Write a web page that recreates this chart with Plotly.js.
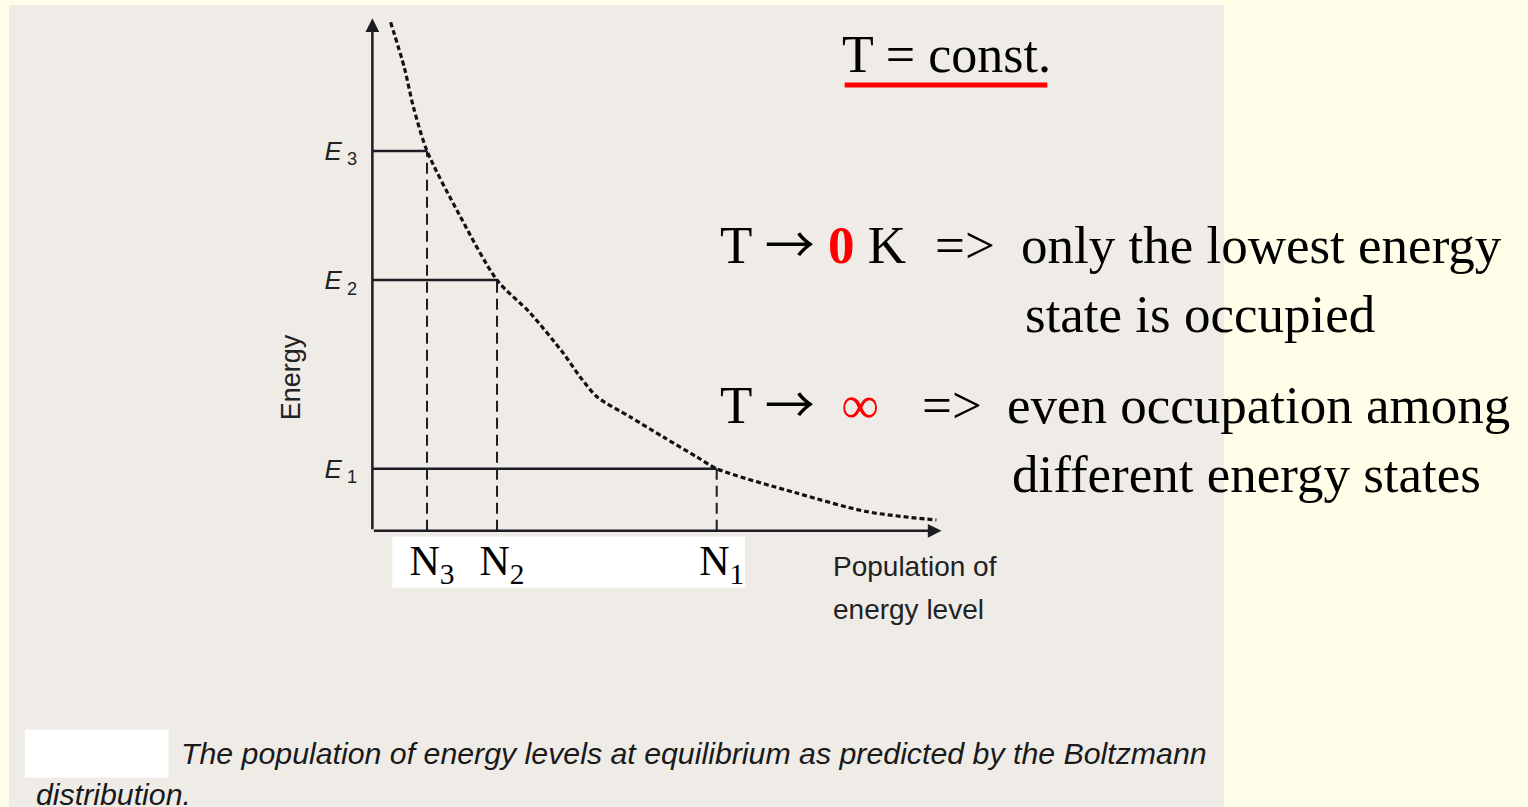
<!DOCTYPE html>
<html>
<head>
<meta charset="utf-8">
<script src="https://cdn.plot.ly/plotly-3.0.1.min.js"></script>
<style>html,body{margin:0;padding:0;background:#fffee8;}#chart{width:1528px;height:807px;}</style>
</head>
<body>
<div id="chart"></div>
<script>
// Boltzmann curve (population of energy level vs energy), arbitrary units
const curvePopulation = [0.32,0.56,0.72,0.96,1.54,2.19,2.77,3.35,3.65,3.95,4.53,5.11,5.70,6.05,7.44,8.70,9.91];
const curveEnergy     = [9.92,9.04,8.27,7.41,6.14,4.89,4.25,3.47,3.00,2.61,2.22,1.83,1.44,1.21,0.74,0.37,0.21];
// Energy levels E1..E3 and their populations N1..N3
const levelEnergy     = [1.21, 4.89, 7.41];
const levelPopulation = [6.05, 2.19, 0.96];
const levelLabels     = ['<i>E</i><sub> 1</sub>', '<i>E</i><sub> 2</sub>', '<i>E</i><sub> 3</sub>'];
const popLabels       = ['N<sub>1</sub>', 'N<sub>2</sub>', 'N<sub>3</sub>'];
const axisMax = 10;

const ink = '#1c1c22';
const serif = 'Liberation Serif, Times New Roman, serif';
const sans = 'Liberation Sans, Arial, sans-serif';
const arrow = '<span style="font-family:Noto Sans CJK JP;font-size:50px">→</span>';

// plot area geometry (pixels)
const L = 360.6, W = 609.9, B = 541.3, H = 528.4;
const px = X => (X - L) / W;
const py = Y => (B - Y) / H;

const traces = [];
levelEnergy.forEach((e, i) => {
  traces.push({x: [0, levelPopulation[i]], y: [e, e], mode: 'lines',
    line: {color: ink, width: 2.5}, hoverinfo: 'skip', showlegend: false});
  traces.push({x: [levelPopulation[i], levelPopulation[i]], y: [0, e], mode: 'lines',
    line: {color: ink, width: 2, dash: '11px,6px'}, hoverinfo: 'skip', showlegend: false});
});
traces.push({x: curvePopulation, y: curveEnergy, mode: 'lines',
  line: {color: '#111114', width: 3.2, dash: '5px,3px', shape: 'spline', smoothing: 0.8},
  hoverinfo: 'skip', showlegend: false});

function ann(text, X, Y, size, family, extra) {
  return Object.assign({text: text, xref: 'paper', yref: 'paper', x: px(X), y: py(Y),
    xanchor: 'left', yanchor: 'middle', showarrow: false,
    font: {family: family, size: size, color: '#000'}}, extra || {});
}

const annotations = [
  // axis arrows
  {x: axisMax, y: 0, ax: 0, ay: 0, xref: 'x', yref: 'y', axref: 'x', ayref: 'y', text: '',
   showarrow: true, arrowhead: 2, arrowsize: 1.1, arrowwidth: 2.5, arrowcolor: ink, standoff: 0},
  {x: 0, y: axisMax, ax: 0, ay: 0, xref: 'x', yref: 'y', axref: 'x', ayref: 'y', text: '',
   showarrow: true, arrowhead: 2, arrowsize: 1.1, arrowwidth: 2.5, arrowcolor: ink, standoff: 0},
  ann('Energy', 290, 378, 27, sans, {textangle: -90, xanchor: 'center', font: {family: sans, size: 27, color: '#222'}}),
  ann('Population of', 831, 567, 28, sans, {font: {family: sans, size: 28, color: '#222'}}),
  ann('energy level', 831, 610, 28, sans, {font: {family: sans, size: 28, color: '#222'}}),
  ann('T = const.', 840, 54, 52, serif),
  ann('T ' + arrow + ' <b><span style="color:#ff0000">0</span></b> K', 718, 241, 53, serif),
  ann('=>', 933, 245, 53, serif),
  ann('only the lowest energy', 1020, 245, 53, serif),
  ann('state is occupied', 1024, 314, 53, serif),
  ann('T ' + arrow + ' \u00a0<span style="color:#ff0000">∞</span>', 718, 401, 53, serif),
  ann('=>', 920, 405, 53, serif),
  ann('even occupation among', 1006, 405, 53, serif),
  ann('different energy states', 1011, 474, 53, serif),
  ann('The population of energy levels at equilibrium as predicted by the Boltzmann', 178, 754, 30.3, sans,
      {font: {family: sans, size: 30.3, color: '#1a1a1a', style: 'italic'}}),
  ann('distribution.', 33, 795, 30.3, sans, {font: {family: sans, size: 30.3, color: '#1a1a1a', style: 'italic'}})
];

const shapes = [
  {type: 'rect', xref: 'paper', yref: 'paper', x0: px(8), x1: px(1225), y0: py(830), y1: py(5),
   fillcolor: '#efece8', line: {width: 0}, layer: 'below'},
  {type: 'rect', xref: 'paper', yref: 'paper', x0: px(392), x1: px(745), y0: py(588), y1: py(537),
   fillcolor: '#ffffff', line: {width: 0}, layer: 'below'},
  {type: 'rect', xref: 'paper', yref: 'paper', x0: px(24), x1: px(168), y0: py(778), y1: py(730),
   fillcolor: '#ffffff', line: {width: 0}, layer: 'below'},
  {type: 'line', xref: 'paper', yref: 'paper', x0: px(845), x1: px(1048), y0: py(85), y1: py(85),
   line: {color: '#ff0000', width: 5}}
];

const layout = {
  width: 1528, height: 807,
  margin: {l: L, r: 1528 - L - W, t: B - H, b: 807 - B, pad: 0},
  paper_bgcolor: '#fffee8', plot_bgcolor: 'rgba(0,0,0,0)',
  showlegend: false,
  xaxis: {range: [-0.2, 10.5], showgrid: false, zeroline: false, showline: false, ticks: '',
    tickmode: 'array', tickvals: levelPopulation, ticktext: popLabels,
    tickfont: {family: serif, size: 42, color: '#000'}, ticklabelstandoff: -9, ticklabelshift: 5, fixedrange: true},
  yaxis: {range: [-0.2, 10.1], showgrid: false, zeroline: false, showline: false, ticks: '',
    tickmode: 'array', tickvals: levelEnergy, ticktext: levelLabels,
    tickfont: {family: sans, size: 26, color: '#222'}, ticklabelstandoff: 3, fixedrange: true},
  annotations: annotations,
  shapes: shapes
};

Plotly.newPlot('chart', traces, layout, {staticPlot: true, displayModeBar: false});
</script>
</body>
</html>
